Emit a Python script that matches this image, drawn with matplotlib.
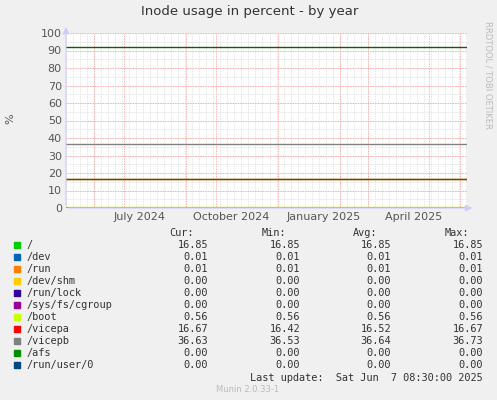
import matplotlib
matplotlib.use("Agg")
import matplotlib.pyplot as plt
import numpy as np
import datetime as dt

names = ["/", "/dev", "/run", "/dev/shm", "/run/lock", "/sys/fs/cgroup", "/boot",
         "/vicepa", "/vicepb", "/afs", "/run/user/0"]
colors = ["#00cc00", "#0066b3", "#ff8000", "#ffcc00", "#330099", "#990099", "#ccff00",
          "#ff0000", "#808080", "#008f00", "#00487d"]
cur = ["16.85", "0.01", "0.01", "0.00", "0.00", "0.00", "0.56", "16.67", "36.63", "0.00", "0.00"]
mins = ["16.85", "0.01", "0.01", "0.00", "0.00", "0.00", "0.56", "16.42", "36.53", "0.00", "0.00"]
avgs = ["16.85", "0.01", "0.01", "0.00", "0.00", "0.00", "0.56", "16.52", "36.64", "0.00", "0.00"]
maxs = ["16.85", "0.01", "0.01", "0.00", "0.00", "0.00", "0.56", "16.67", "36.73", "0.00", "0.00"]
levels = [16.85, 0.01, 0.01, 0.0, 0.0, 0.0, 0.56, 16.5, 36.6, 0.0, 0.0]
threshold = 92

W, H = 497, 400
fig = plt.figure(figsize=(W/100, H/100), dpi=100, facecolor="#f0f0f0")
L, R, T, B = 66, 467, 33, 208
ax = fig.add_axes([L/W, 1-B/H, (R-L)/W, (B-T)/H])
ax.set_facecolor("white")
x0 = dt.datetime(2024, 5, 4); x1 = dt.datetime(2025, 6, 8)
ax.set_xlim(x0, x1); ax.set_ylim(0, 100)

d = x0
while d < x1:
    ax.axvline(d, color="#dddddd", lw=0.6, ls=(0, (1, 1)), zorder=1)
    d += dt.timedelta(days=7)
for y in np.arange(0, 101, 5):
    ax.axhline(y, color="#dddddd", lw=0.6, ls=(0, (1, 1)), zorder=1)
for y in range(0, 101, 10):
    ax.axhline(y, color="#ff9999", lw=0.6, ls=(0, (1, 1)), zorder=1.5)
for mdt in [(2024, 6), (2024, 7), (2024, 9), (2024, 10), (2024, 12), (2025, 2), (2025, 3), (2025, 5), (2025, 6)]:
    ax.axvline(dt.datetime(mdt[0], mdt[1], 1), color="#ff9999", lw=0.6, ls=(0, (1, 1)), zorder=1.5)

ax.plot([x0, x1], [threshold]*2, color="#006600", lw=1, zorder=3)
order = [0, 1, 2, 3, 4, 5, 6, 8, 9, 10, 7]
for i in order:
    ax.plot([x0, x1 - dt.timedelta(days=1)], [levels[i]]*2, color=colors[i], lw=1, zorder=3)

ax.set_yticks(range(0, 101, 10))
ax.set_xticks([dt.datetime(2024, 7, 16), dt.datetime(2024, 10, 16), dt.datetime(2025, 1, 16), dt.datetime(2025, 4, 16)])
ax.set_xticklabels(["July 2024", "October 2024", "January 2025", "April 2025"])
ax.tick_params(length=0, labelsize=8, colors="#555555", pad=3)
for s in ax.spines.values():
    s.set_visible(False)
ax.annotate("", xy=(1.02, 0), xytext=(0, 0), xycoords="axes fraction",
            arrowprops=dict(arrowstyle="-|>", color="#ccccff", lw=0.8))
ax.annotate("", xy=(0, 1.05), xytext=(0, 0), xycoords="axes fraction",
            arrowprops=dict(arrowstyle="-|>", color="#ccccff", lw=0.8))

fig.text(250/W, 1-12/H, "Inode usage in percent - by year", ha="center", va="center", fontsize=9.5, color="#333333")
fig.text(10/W, 1-119/H, "%", rotation=90, ha="center", va="center", fontsize=8, color="#555555")
fig.text(488/W, 1-75/H, "RRDTOOL / TOBI OETIKER", rotation=270, ha="center", va="center", fontsize=6, color="#bbbbbb")

mono = dict(family="DejaVu Sans Mono", fontsize=7.4, color="#333333")
ytop = 233
for x, h in [(194, "Cur:"), (286, "Min:"), (377, "Avg:"), (469, "Max:")]:
    fig.text(x/W, 1-ytop/H, h, ha="right", va="center", **mono)
for i, n in enumerate(names):
    y = 245 + i*12
    fig.patches.append(plt.Rectangle((14/W, 1-(y+3)/H), 6/W, 6/H, color=colors[i], transform=fig.transFigure))
    fig.text(26/W, 1-y/H, n, ha="left", va="center", **mono)
    for x, arr in [(208, cur), (300, mins), (391, avgs), (483, maxs)]:
        fig.text(x/W, 1-y/H, arr[i], ha="right", va="center", **mono)
fig.text(483/W, 1-378/H, "Last update:  Sat Jun  7 08:30:00 2025", ha="right", va="center", **mono)
fig.text(248/W, 1-389/H, "Munin 2.0.33-1", ha="center", va="center", fontsize=6, color="#bbbbbb")

fig.savefig("out.png", dpi=100, facecolor=fig.get_facecolor())
